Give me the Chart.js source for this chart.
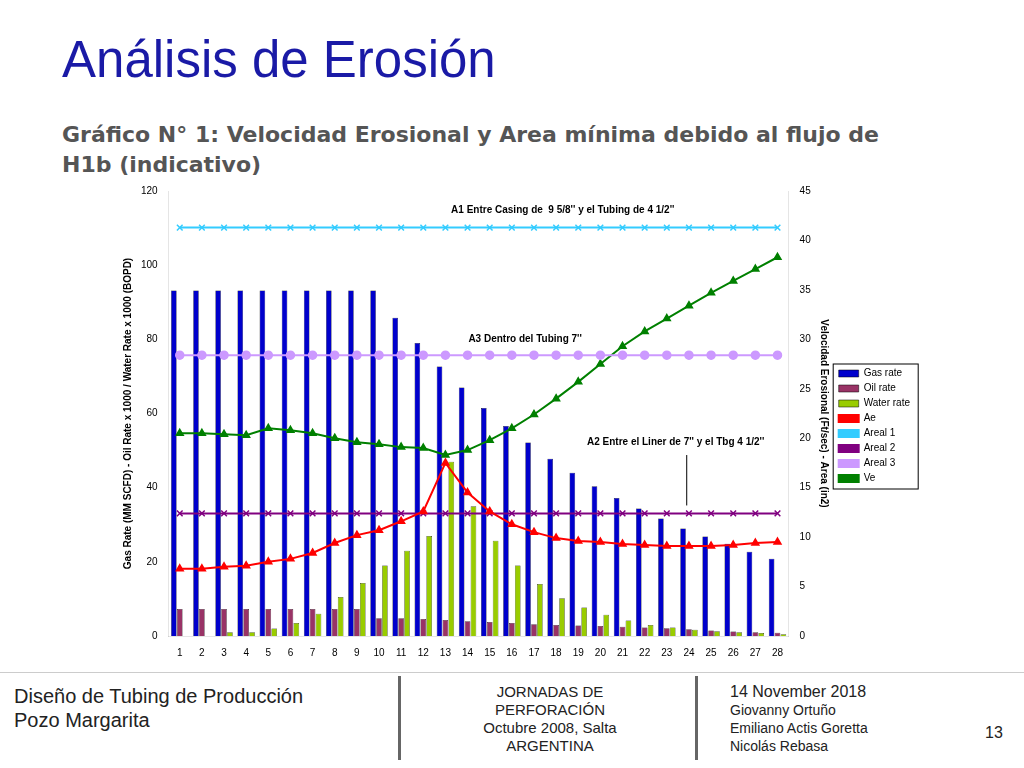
<!DOCTYPE html>
<html>
<head>
<meta charset="utf-8">
<script src="https://cdn.jsdelivr.net/npm/chart.js@4/dist/chart.umd.min.js"></script>
<style>
  body { margin: 0; width: 1024px; height: 768px; background: #fff; font-family: Arial, "Liberation Sans", sans-serif; position: relative; overflow: hidden; }
  .title { position: absolute; left: 62px; top: 30px; font-size: 51px; color: #1a1aa6; }
  .sub { position: absolute; left: 62px; top: 120px; width: 860px; font-size: 22px; font-weight: bold; color: #555; line-height: 30px; font-family: "DejaVu Sans", sans-serif; }
  .chartbox { position: absolute; left: 118px; top: 182px; width: 802px; height: 480px; }
  .foot { position: absolute; top: 672px; left: 0; width: 1024px; height: 96px; border-top: 1px solid #ccc; }
  .sep { position: absolute; top: 676px; width: 3px; height: 84px; background: #666; }
  .ft { position: absolute; color: #222; }
</style>
</head>
<body>
<div class="title">Análisis de Erosión</div>
<div class="sub">Gráfico N° 1: Velocidad Erosional y Area mínima debido al flujo de H1b (indicativo)</div>
<div class="chartbox"><canvas id="c" width="802" height="480"></canvas></div>
<div class="foot"></div>
<div class="sep" style="left:398px"></div>
<div class="sep" style="left:695px"></div>
<div class="ft" style="left:14px;top:684px;font-size:20px;line-height:24px">Diseño de Tubing de Producción<br>Pozo Margarita</div>
<div class="ft" style="left:450px;top:683px;width:200px;text-align:center;font-size:15px;line-height:18px">JORNADAS DE PERFORACIÓN<br>Octubre 2008, Salta<br>ARGENTINA</div>
<div class="ft" style="left:730px;top:683px;font-size:16px;line-height:18px">14 November 2018<br><span style="font-size:14px">Giovanny Ortuño<br>Emiliano Actis Goretta<br>Nicolás Rebasa</span></div>
<div class="ft" style="left:985px;top:724px;font-size:16px">13</div>
<script>
const wells = ['1','2','3','4','5','6','7','8','9','10','11','12','13','14','15','16','17','18','19','20','21','22','23','24','25','26','27','28'];
const gasRate = [93.2,93.2,93.2,93.2,93.2,93.2,93.2,93.2,93.2,93.2,85.8,79,72.7,67,61.5,56.6,52.2,47.8,44,40.4,37.2,34.4,31.7,29,26.8,24.9,22.7,20.8];
const oilRate = [7.3,7.3,7.3,7.3,7.3,7.3,7.3,7.3,7.3,4.8,4.8,4.6,4.3,4,3.8,3.5,3.2,3,2.8,2.7,2.5,2.3,2.1,1.8,1.5,1.2,1,0.9];
const waterRate = [0,0,1,1,2,3.5,6,10.5,14.3,19,23,27,47,35,25.7,19,14,10.2,7.7,5.7,4.2,3,2.3,1.7,1.3,1,0.8,0.5];
const ae = [6.8,6.8,7.0,7.1,7.5,7.8,8.4,9.4,10.2,10.7,11.6,12.6,17.5,14.5,12.6,11.3,10.5,9.9,9.6,9.5,9.3,9.2,9.1,9.1,9.1,9.2,9.4,9.5];
const areal1 = wells.map(() => 41.3);
const areal2 = wells.map(() => 12.4);
const areal3 = wells.map(() => 28.4);
const ve = [20.5,20.5,20.4,20.3,21,20.8,20.5,20,19.6,19.4,19.1,19,18.3,18.8,19.8,21,22.4,24,25.7,27.5,29.3,30.8,32.1,33.4,34.7,35.9,37.1,38.3];

const notes = {
  id: 'notes',
  afterDatasetsDraw(chart) {
    const ctx = chart.ctx, x = chart.scales.x, y2 = chart.scales.y2;
    ctx.save();
    ctx.font = 'bold 10px Arial';
    ctx.fillStyle = '#000';
    ctx.textAlign = 'center';
    ctx.fillText("A1 Entre Casing de  9 5/8'' y el Tubing de 4 1/2''", x.getPixelForValue(17.3), y2.getPixelForValue(42.8));
    ctx.fillText("A3 Dentro del Tubing 7''", x.getPixelForValue(15.6), y2.getPixelForValue(29.7));
    ctx.fillText("A2 Entre el Liner de 7'' y el Tbg 4 1/2''", x.getPixelForValue(22.4), y2.getPixelForValue(19.3));
    const lx = x.getPixelForValue(22.9);
    ctx.strokeStyle = '#000';
    ctx.lineWidth = 1;
    ctx.beginPath();
    ctx.moveTo(lx, y2.getPixelForValue(18.3));
    ctx.lineTo(lx, y2.getPixelForValue(13.2));
    ctx.stroke();
    // legend frame
    const hb = chart.legend.legendHitBoxes;
    const top = hb[0].top - 5, bottom = hb[hb.length - 1].top + hb[hb.length - 1].height + 5;
    ctx.strokeRect(hb[0].left - 5.5, top + 0.5, 85, bottom - top);
    ctx.restore();
  }
};

const line = (label, data, color, style) => ({
  type: 'line', label, data, yAxisID: 'y2', borderColor: color, backgroundColor: color,
  borderWidth: 2, pointStyle: style, pointRadius: 4, pointBorderWidth: 1.5, tension: 0, order: 0
});

Chart.defaults.font.family = 'Arial';
Chart.defaults.color = '#000';
new Chart(document.getElementById('c'), {
  type: 'bar',
  data: {
    labels: wells,
    datasets: [
      { label: 'Gas rate', data: gasRate, backgroundColor: '#0000cc', borderColor: '#000', borderWidth: 0.5, order: 1 },
      { label: 'Oil rate', data: oilRate, backgroundColor: '#993366', borderColor: '#000', borderWidth: 0.5, order: 1 },
      { label: 'Water rate', data: waterRate, backgroundColor: '#99cc00', borderColor: '#000', borderWidth: 0.5, order: 1 },
      line('Ae', ae, '#ff0000', 'triangle'),
      line('Areal 1', areal1, '#33ccff', 'crossRot'),
      line('Areal 2', areal2, '#800080', 'crossRot'),
      line('Areal 3', areal3, '#cc99ff', 'circle'),
      line('Ve', ve, '#008000', 'triangle')
    ]
  },
  options: {
    responsive: false,
    animation: false,
    layout: { padding: { right: 0, top: 8 } },
    datasets: { bar: { barPercentage: 0.95, categoryPercentage: 0.8 } },
    plugins: {
      tooltip: { enabled: false },
      legend: {
        position: 'right',
        labels: { boxWidth: 20, boxHeight: 7, font: { size: 10 }, padding: 5, sort: (a, b) => a.datasetIndex - b.datasetIndex }
      }
    },
    scales: {
      x: { grid: { display: false }, ticks: { font: { size: 10 } } },
      y: {
        min: 0, max: 120, ticks: { stepSize: 20, font: { size: 10 } }, grid: { display: false },
        title: { display: true, text: 'Gas Rate (MM SCFD) - Oil Rate x 1000 / Water Rate x 1000 (BOPD)', font: { size: 10, weight: 'bold' } }
      },
      y2: {
        position: 'right', min: 0, max: 45, ticks: { stepSize: 5, font: { size: 10 } }, grid: { display: false },
        title: { display: true, text: 'Velocidad Erosional (Ft/sec) - Area (in2)', font: { size: 10, weight: 'bold' } }
      }
    }
  },
  plugins: [notes]
});
</script>
</body>
</html>
